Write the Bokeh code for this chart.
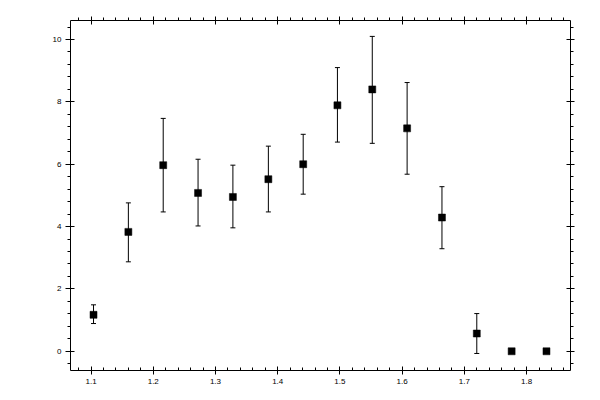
from bokeh.plotting import figure
from bokeh.models import (ColumnDataSource, Whisker, TeeHead, LinearAxis,
                          SingleIntervalTicker, Range1d, CustomJSTickFormatter)
from bokeh.embed import file_html
from bokeh.resources import INLINE

# data
x_vals = [1.104, 1.160, 1.216, 1.272, 1.328, 1.385, 1.441, 1.496, 1.552,
          1.608, 1.664, 1.720, 1.776, 1.832]
y_vals = [1.17, 3.83, 5.97, 5.08, 4.95, 5.52, 6.00, 7.89, 8.40,
          7.15, 4.29, 0.57, 0.0, 0.0]
y_lower = [0.89, 2.87, 4.47, 4.02, 3.96, 4.47, 5.04, 6.71, 6.67,
           5.68, 3.29, -0.07, None, None]
y_upper = [1.49, 4.76, 7.47, 6.16, 5.97, 6.58, 6.96, 9.10, 10.10,
           8.62, 5.28, 1.21, None, None]

FONT = "Liberation Sans"

p = figure(frame_width=500, frame_height=350,
           min_border_left=70, min_border_top=20,
           min_border_right=28, min_border_bottom=28,
           x_range=Range1d(1.067, 1.8706), y_range=Range1d(-0.616, 10.61),
           output_backend="svg", toolbar_location=None,
           background_fill_color="white", border_fill_color="white")
p.outline_line_color = None
p.xgrid.visible = False
p.ygrid.visible = False

xt = SingleIntervalTicker(interval=0.1, num_minor_ticks=5)
yt = SingleIntervalTicker(interval=2, num_minor_ticks=5)

def style(ax, tick_out, tick_in, minor_out, minor_in, labels=True):
    ax.axis_line_color = "black"
    ax.axis_line_width = 1
    ax.major_tick_line_color = "black"
    ax.minor_tick_line_color = "black"
    ax.major_tick_out = tick_out
    ax.major_tick_in = tick_in
    ax.minor_tick_out = minor_out
    ax.minor_tick_in = minor_in
    if labels:
        ax.major_label_text_font = FONT
        ax.major_label_text_font_size = "8px"
        ax.major_label_text_color = "black"
        ax.major_label_standoff = 4
    else:
        ax.formatter = CustomJSTickFormatter(code="return ''")
        ax.major_label_standoff = 0

bx = p.xaxis[0]
bx.ticker = xt
style(bx, 4, 4, 0, 3)
ly = p.yaxis[0]
ly.ticker = yt
style(ly, 5, 4, 3, 0)

tx = LinearAxis(ticker=SingleIntervalTicker(interval=0.1, num_minor_ticks=5))
style(tx, 4, 4, 3, 0, labels=False)
p.add_layout(tx, "above")
ry = LinearAxis(ticker=SingleIntervalTicker(interval=2, num_minor_ticks=5))
style(ry, 4, 4, 3, 0, labels=False)
p.add_layout(ry, "right")

# error bars (only points that have them)
ex = [x for x, lo in zip(x_vals, y_lower) if lo is not None]
elo = [lo for lo in y_lower if lo is not None]
eup = [up for up in y_upper if up is not None]
esrc = ColumnDataSource(dict(x=ex, lower=elo, upper=eup))
w = Whisker(source=esrc, base="x", lower="lower", upper="upper",
            line_color="black", line_width=1,
            upper_head=TeeHead(size=5, line_color="black", line_width=1),
            lower_head=TeeHead(size=5, line_color="black", line_width=1))
p.add_layout(w)

src = ColumnDataSource(dict(x=x_vals, y=y_vals))
p.scatter("x", "y", source=src, marker="square", size=7,
          fill_color="black", line_color="black", line_width=0.5)

open("out.html", "w").write(file_html(p, INLINE))
